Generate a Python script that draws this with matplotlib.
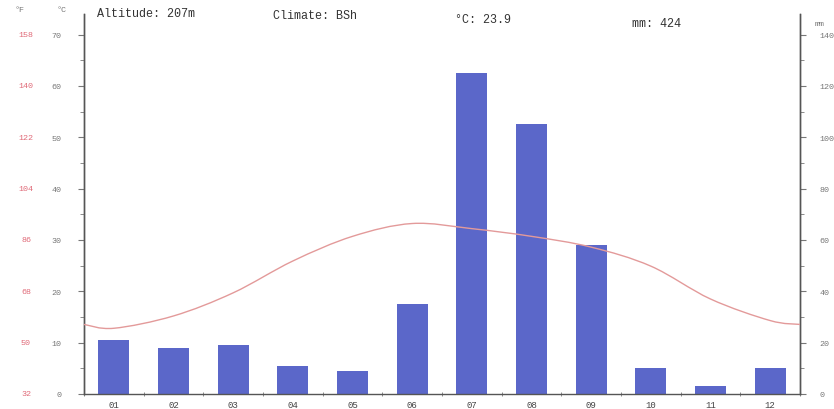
import numpy as np
import matplotlib
matplotlib.use("Agg")
import matplotlib.pyplot as plt
from matplotlib.path import Path
from matplotlib.patches import PathPatch
import matplotlib.transforms as mtransforms

# climate data
months = ["01", "02", "03", "04", "05", "06", "07", "08", "09", "10", "11", "12"]
temp_c = [12.8, 15.2, 19.7, 25.9, 30.7, 33.2, 32.2, 30.7, 28.6, 24.9, 18.5, 14.3]
precip_mm = [21, 18, 19, 11, 9, 35, 125, 105, 58, 10, 3, 10]
c_ticks = [0, 10, 20, 30, 40, 50, 60, 70]
f_labels = ["32", "50", "68", "86", "104", "122", "140", "158"]
mm_ticks = [0, 20, 40, 60, 80, 100, 120, 140]
altitude = "207m"
climate = "BSh"

bar_col = "#5b67c9"
line_col = "#e39a9a"
red = "#e06a78"
gray = "#777777"

fig = plt.figure(figsize=(8.34, 4.10), dpi=100)
ax = fig.add_axes([84/834, 15/410, 716/834, 380/410])
ax2 = ax.twinx()

x = np.arange(len(months))

#! precipitation bars (right axis, mm)
ax2.bar(x, precip_mm, width=0.52, color=bar_col, zorder=2)
ax2.set_ylim(0, 148)
ax2.set_yticks(mm_ticks)
ax2.set_yticks(np.arange(0, 148, 10), minor=True)
ax2.set_yticklabels([str(v) for v in mm_ticks], fontsize=6, color=gray,
                    family="Liberation Mono")

#! temperature curve (left axis, deg C), wraps to the plot edges
edge = (temp_c[0] + temp_c[-1]) / 2
px = np.concatenate([[-0.5], x, [len(months) - 0.5]])
py = np.concatenate([[edge], temp_c, [edge]])
pts = np.column_stack([px, py])
ext = np.vstack([pts[0], pts, pts[-1]])
verts = [tuple(pts[0])]
codes = [Path.MOVETO]
for i in range(1, len(ext) - 2):
    p0, p1, p2, p3 = ext[i - 1], ext[i], ext[i + 1], ext[i + 2]
    c1 = p1 + (p2 - p0) / 6
    c2 = p2 - (p3 - p1) / 6
    verts += [tuple(c1), tuple(c2), tuple(p2)]
    codes += [Path.CURVE4] * 3
ax.add_patch(PathPatch(Path(verts, codes), fill=False, edgecolor=line_col,
                       lw=1.0, zorder=3))
ax.set_zorder(ax2.get_zorder() + 1)
ax.patch.set_visible(False)

ax.set_xlim(-0.5, len(months) - 0.5)
ax.set_ylim(0, 74)
ax.set_yticks(c_ticks)
ax.set_yticks(np.arange(0, 74, 5), minor=True)
ax.set_yticklabels([str(v) for v in c_ticks], fontsize=6, color=gray,
                   family="Liberation Mono")
ax.tick_params(axis="y", which="major", length=4, pad=12, color=gray)
ax.tick_params(axis="y", which="minor", length=3, color=gray)
ax2.tick_params(axis="y", which="major", length=4, pad=10, color=gray)
ax2.tick_params(axis="y", which="minor", length=3, color=gray)

ax.set_xticks(x)
ax.set_xticklabels(months, fontsize=6.5, color="#444444", family="Liberation Mono")
ax.set_xticks(np.arange(-0.5, len(months), 1), minor=True)
ax.tick_params(axis="x", which="major", length=0, pad=4)
ax.tick_params(axis="x", which="minor", length=3, color=gray, direction="inout")

for a in (ax, ax2):
    a.spines["top"].set_visible(False)
    for s in ("left", "right", "bottom"):
        a.spines[s].set_color("#555555")
        a.spines[s].set_linewidth(1.0)
ax2.spines["bottom"].set_visible(False)

#! deg F column in red
trans = mtransforms.blended_transform_factory(fig.transFigure, ax.transData)
for c, f in zip(c_ticks, f_labels):
    fig.text(26/834, c, f, transform=trans, fontsize=6, color=red,
             ha="center", va="center", family="Liberation Mono")

fig.text(20/834, 1 - 11/410, "°F", fontsize=6, color=gray, ha="center",
         va="center", family="Liberation Mono")
fig.text(62/834, 1 - 11/410, "°C", fontsize=6, color=gray, ha="center",
         va="center", family="Liberation Mono")
fig.text(820/834, 1 - 24/410, "mm", fontsize=6, color=gray, ha="center",
         va="center", family="Liberation Mono")

#! header line
t_mean = np.mean(temp_c)
p_sum = np.sum(precip_mm)
hdr = dict(fontsize=8.5, color="#333333", family="Liberation Mono", va="center")
fig.text(97/834, 1 - 14/410, "Altitude: " + altitude, **hdr)
fig.text(273/834, 1 - 16/410, "Climate: " + climate, **hdr)
fig.text(455/834, 1 - 20/410, "°C: %.1f" % t_mean, **hdr)
fig.text(632/834, 1 - 24/410, "mm: %d" % p_sum, **hdr)

fig.savefig("out.png", dpi=100)
